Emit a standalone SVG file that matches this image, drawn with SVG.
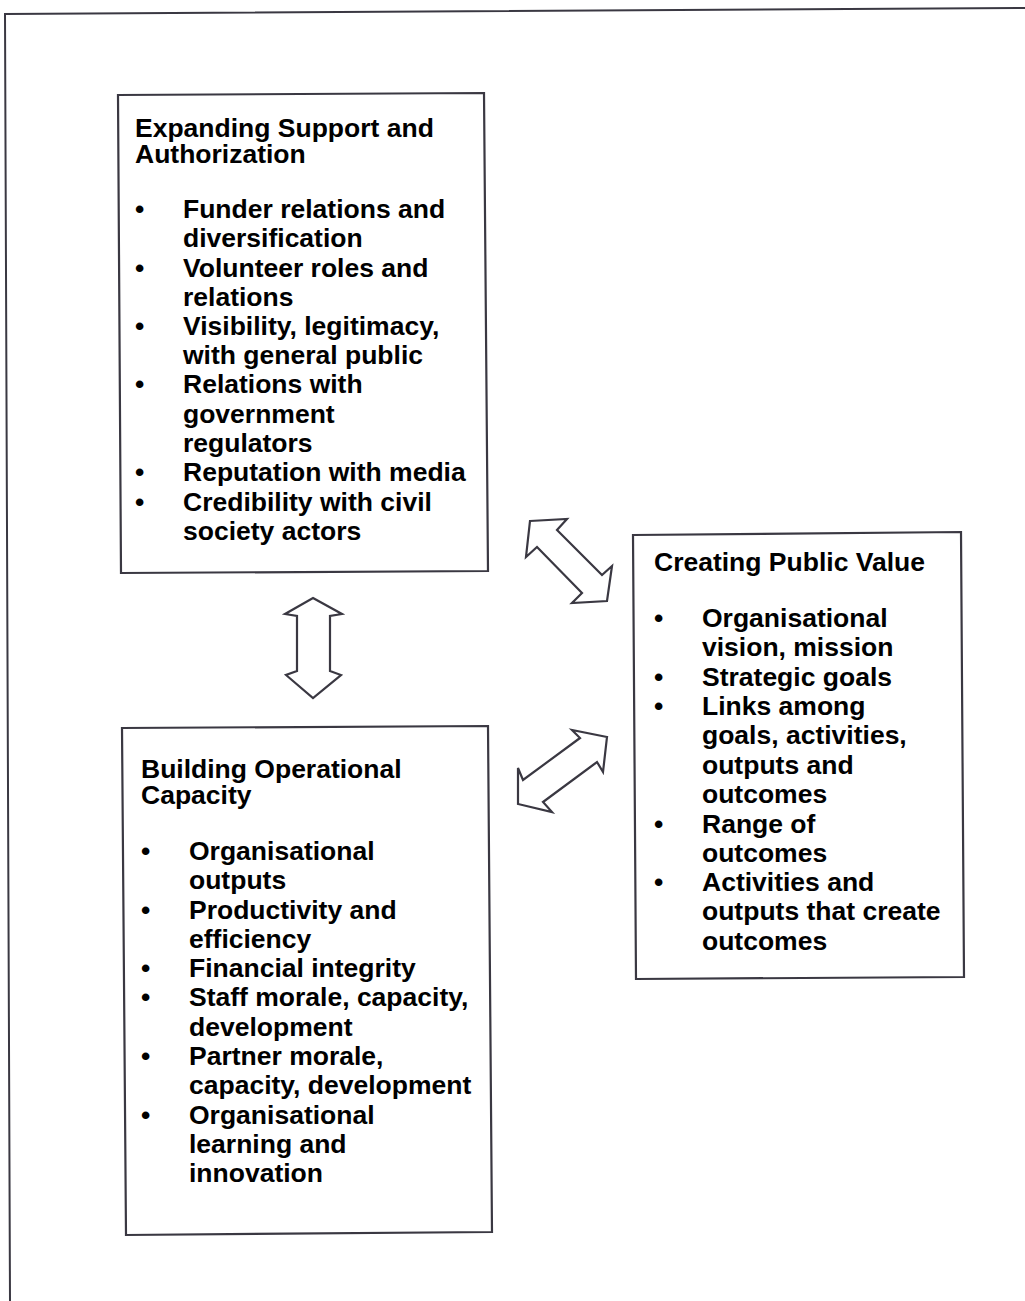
<svg xmlns="http://www.w3.org/2000/svg" width="1025" height="1301" viewBox="0 0 1025 1301">
<style>
.box{fill:#fff;stroke:#3a3842;stroke-width:2.2}
.arrow{fill:#fff;stroke:#3a3842;stroke-width:2.2;stroke-linejoin:miter}
.frame{fill:none;stroke:#3a3842;stroke-width:2}
text{font-family:"Liberation Sans",Arial,sans-serif;font-weight:bold;font-size:26.5px;fill:#000}
</style>
<rect width="1025" height="1301" fill="#fff"/>
<g id="frame">
<path class="frame" d="M4,14 L1025,8 M5,14 L10,1301"/>
</g>
<g id="node-support">
<polygon class="box" points="118,95 484,93 488,571 121,573"/>
<text x="135" y="137">Expanding Support and</text>
<text x="135" y="163">Authorization</text>
<text x="135" y="218">•</text><text x="183" y="218">Funder relations and</text>
<text x="183" y="247">diversification</text>
<text x="135" y="277">•</text><text x="183" y="277">Volunteer roles and</text>
<text x="183" y="306">relations</text>
<text x="135" y="335">•</text><text x="183" y="335">Visibility, legitimacy,</text>
<text x="183" y="364">with general public</text>
<text x="135" y="393">•</text><text x="183" y="393">Relations with</text>
<text x="183" y="423">government</text>
<text x="183" y="452">regulators</text>
<text x="135" y="481">•</text><text x="183" y="481">Reputation with media</text>
<text x="135" y="511">•</text><text x="183" y="511">Credibility with civil</text>
<text x="183" y="540">society actors</text>
</g>
<g id="node-value">
<polygon class="box" points="633,535 961,532 964,977 636,979"/>
<text x="654" y="571">Creating Public Value</text>
<text x="654" y="627">•</text><text x="702" y="627">Organisational</text>
<text x="702" y="656">vision, mission</text>
<text x="654" y="686">•</text><text x="702" y="686">Strategic goals</text>
<text x="654" y="715">•</text><text x="702" y="715">Links among</text>
<text x="702" y="744">goals, activities,</text>
<text x="702" y="774">outputs and</text>
<text x="702" y="803">outcomes</text>
<text x="654" y="833">•</text><text x="702" y="833">Range of</text>
<text x="702" y="862">outcomes</text>
<text x="654" y="891">•</text><text x="702" y="891">Activities and</text>
<text x="702" y="920">outputs that create</text>
<text x="702" y="950">outcomes</text>
</g>
<g id="node-capacity">
<polygon class="box" points="122,728 488,726 492,1232 126,1235"/>
<text x="141" y="778">Building Operational</text>
<text x="141" y="804">Capacity</text>
<text x="141" y="860">•</text><text x="189" y="860">Organisational</text>
<text x="189" y="889">outputs</text>
<text x="141" y="919">•</text><text x="189" y="919">Productivity and</text>
<text x="189" y="948">efficiency</text>
<text x="141" y="977">•</text><text x="189" y="977">Financial integrity</text>
<text x="141" y="1006">•</text><text x="189" y="1006">Staff morale, capacity,</text>
<text x="189" y="1036">development</text>
<text x="141" y="1065">•</text><text x="189" y="1065">Partner morale,</text>
<text x="189" y="1094">capacity, development</text>
<text x="141" y="1124">•</text><text x="189" y="1124">Organisational</text>
<text x="189" y="1153">learning and</text>
<text x="189" y="1182">innovation</text>
</g>
<g id="connectors">
<polygon class="arrow" points="313,598 342,614 330,616 330,671 341,675 313,698 286,675 297,671 297,616 285,614"/>
<polygon class="arrow" points="530,521 567,519 557,530 602,575 612,566 607,601 572,603 582,593 537,547 526,557"/>
<polygon class="arrow" points="607,737 572,730 580,738 523,780 518,768 518,804 552,812 543,802 597,762 603,772"/>
</g>
</svg>
